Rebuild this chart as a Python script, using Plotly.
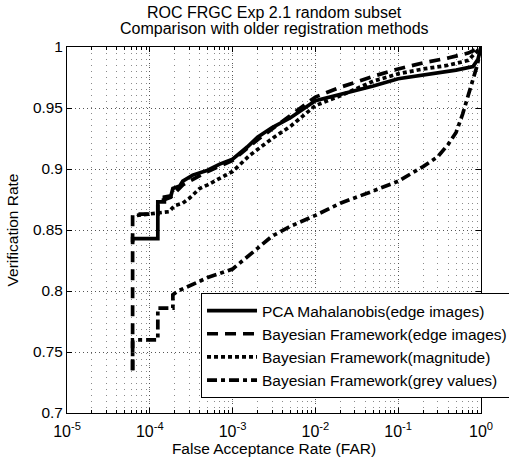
import plotly.graph_objects as go

title_lines = ["ROC FRGC Exp 2.1 random subset", "Comparison with older registration methods"]
x_label = "False Acceptance Rate (FAR)"
y_label = "Verification Rate"
series_names = [
    "PCA Mahalanobis(edge images)",
    "Bayesian Framework(edge images)",
    "Bayesian Framework(magnitude)",
    "Bayesian Framework(grey values)",
]
x_ticks = [1e-5, 1e-4, 1e-3, 1e-2, 1e-1, 1e0]
x_ticktext = ["10<sup>-5</sup>", "10<sup>-4</sup>", "10<sup>-3</sup>", "10<sup>-2</sup>",
              "10<sup>-1</sup>", "10<sup>0</sup>"]
y_ticks = [0.7, 0.75, 0.8, 0.85, 0.9, 0.95, 1.0]
y_ticktext = ["0.7", "0.75", "0.8", "0.85", "0.9", "0.95", "1"]

pca_far = [6.2e-5, 6.2e-5, 1.25e-4, 1.25e-4, 1.5e-4, 1.5e-4, 1.8e-4, 1.9e-4, 2.3e-4, 2.5e-4,
           3.3e-4, 5e-4, 7e-4, 1e-3, 1.5e-3, 2e-3, 3e-3, 5e-3, 1e-2, 2e-2, 5e-2, 1e-1,
           2e-1, 5e-1, 8e-1, 9.2e-1, 1.0]
pca_vr = [0.840, 0.843, 0.843, 0.873, 0.873, 0.877, 0.878, 0.884, 0.886, 0.890,
          0.895, 0.899, 0.904, 0.908, 0.918, 0.926, 0.934, 0.942, 0.956, 0.961, 0.968, 0.974,
          0.977, 0.981, 0.984, 0.990, 1.0]

bay_edge_far = [6.2e-5, 6.2e-5, 1.25e-4, 1.25e-4, 1.8e-4, 2.5e-4, 5e-4, 1e-3, 2e-3, 5e-3,
                1e-2, 2e-2, 5e-2, 1e-1, 2e-1, 4e-1, 7e-1, 1.0]
bay_edge_vr = [0.735, 0.863, 0.863, 0.873, 0.877, 0.887, 0.898, 0.907, 0.924, 0.944,
               0.959, 0.967, 0.976, 0.982, 0.987, 0.991, 0.995, 1.0]

bay_mag_far = [7e-5, 1.3e-4, 1.7e-4, 2e-4, 2.5e-4, 3e-4, 4e-4, 5e-4, 7e-4, 1e-3, 1.6e-3,
               3e-3, 5e-3, 1e-2, 2e-2, 5e-2, 1e-1, 2e-1, 4e-1, 7e-1, 1.0]
bay_mag_vr = [0.862, 0.864, 0.865, 0.870, 0.872, 0.876, 0.884, 0.887, 0.892, 0.898, 0.911,
              0.925, 0.935, 0.952, 0.960, 0.972, 0.978, 0.982, 0.985, 0.989, 1.0]

bay_grey_far = [6.2e-5, 6.2e-5, 1.25e-4, 1.25e-4, 1.9e-4, 1.9e-4, 2.2e-4, 2.8e-4, 3.5e-4, 5e-4,
                1e-3, 1.6e-3, 2e-3, 3e-3, 5e-3, 1e-2, 2e-2, 5e-2, 1e-1, 2e-1, 3e-1, 4e-1,
                5e-1, 6e-1, 7e-1, 8e-1, 9e-1, 1.0]
bay_grey_vr = [0.735, 0.760, 0.760, 0.786, 0.786, 0.797, 0.800, 0.803, 0.806, 0.811,
               0.818, 0.830, 0.835, 0.845, 0.853, 0.862, 0.872, 0.882, 0.890, 0.902, 0.910, 0.920,
               0.930, 0.945, 0.960, 0.975, 0.985, 1.0]

series_far = [pca_far, bay_edge_far, bay_mag_far, bay_grey_far]
series_vr = [pca_vr, bay_edge_vr, bay_mag_vr, bay_grey_vr]
dashes = ["solid", "11px,7px", "4px,3px", "10px,4px,4px,4px"]

fig = go.Figure()
for name, fx, vy, d in zip(series_names, series_far, series_vr, dashes):
    fig.add_trace(go.Scatter(x=fx, y=vy, mode="lines", name=name,
                             line=dict(color="black", width=3.7, dash=d)))

font_family = "Liberation Sans, Arial, Helvetica, sans-serif"
fig.update_layout(
    width=509, height=460,
    margin=dict(l=67, r=28, t=47, b=47, autoexpand=False),
    paper_bgcolor="white", plot_bgcolor="white",
    font=dict(family=font_family, size=15, color="black"),
    showlegend=True,
    legend=dict(x=0.3237, y=(413 - 293) / 366, xanchor="left", yanchor="top",
                bgcolor="white", bordercolor="black", borderwidth=1,
                font=dict(size=15.5), tracegroupgap=0, itemwidth=50),
    xaxis=dict(type="log", range=[-5, 0], tickvals=x_ticks, ticktext=x_ticktext,
               tickfont=dict(size=16), ticklabelstandoff=4,
               showgrid=True, gridcolor="#555", griddash="1px,3px", gridwidth=1,
               showline=True, linecolor="black", linewidth=1, mirror="ticks",
               ticks="inside", ticklen=5, tickcolor="black",
               minor=dict(dtick="D1", showgrid=True, gridcolor="#8a8a8a", griddash="1px,5px",
                          ticks="inside", ticklen=3, tickcolor="black"),
               title=dict(text=x_label, standoff=3, font=dict(size=15.5)), zeroline=False),
    yaxis=dict(range=[0.7, 1.0], tickvals=y_ticks, ticktext=y_ticktext,
               tickfont=dict(size=15.4),
               showgrid=True, gridcolor="#555", griddash="1px,3px", gridwidth=1,
               showline=True, linecolor="black", linewidth=1, mirror="ticks",
               ticks="inside", ticklen=5, tickcolor="black",
               title=dict(text=y_label, standoff=10, font=dict(size=15.5)), zeroline=False),
    annotations=[
        dict(text=title_lines[0], xref="paper", yref="paper", x=0.5, y=(413 - 12) / 366,
             xanchor="center", yanchor="middle", showarrow=False, font=dict(size=16)),
        dict(text=title_lines[1], xref="paper", yref="paper", x=0.5, y=(413 - 29) / 366,
             xanchor="center", yanchor="middle", showarrow=False, font=dict(size=16)),
    ],
)
fig.write_html("out.html")
